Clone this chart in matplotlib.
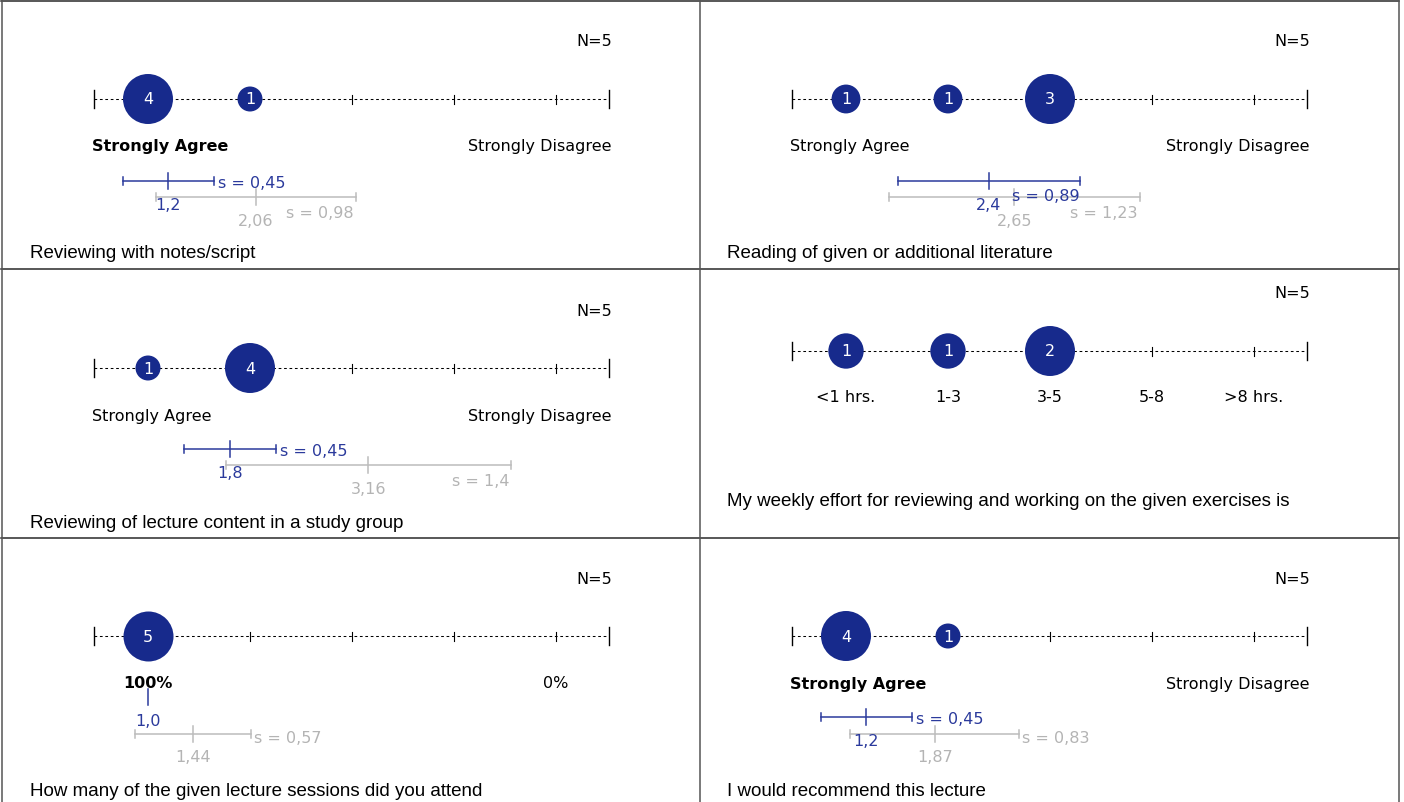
import matplotlib
matplotlib.use("Agg")
import matplotlib.pyplot as plt
from matplotlib.lines import Line2D

# ---------------- data ----------------
titles = [
    "Reviewing with notes/script",
    "Reading of given or additional literature",
    "Reviewing of lecture content in a study group",
    "My weekly effort for reviewing and working on the given exercises is",
    "How many of the given lecture sessions did you attend",
    "I would recommend this lecture",
]
counts = [
    [4, 1, 0, 0, 0],
    [1, 1, 3, 0, 0],
    [1, 4, 0, 0, 0],
    [1, 1, 2, 0, 0],
    [5, 0, 0, 0, 0],
    [4, 1, 0, 0, 0],
]
n_resp = [5, 5, 5, 5, 5, 5]
left_labels = ["Strongly Agree", "Strongly Agree", "Strongly Agree", None, "100%", "Strongly Agree"]
right_labels = ["Strongly Disagree", "Strongly Disagree", "Strongly Disagree", None, "0%", "Strongly Disagree"]
left_bold = [True, False, False, False, True, True]
hours_labels = ["<1 hrs.", "1-3", "3-5", "5-8", ">8 hrs."]
mean_course = [1.2, 2.4, 1.8, None, 1.0, 1.2]
sd_course = [0.45, 0.89, 0.45, None, 0.0, 0.45]
mean_ref = [2.06, 2.65, 3.16, None, 1.44, 1.87]
sd_ref = [0.98, 1.23, 1.4, None, 0.57, 0.83]

# ---------------- layout / style ----------------
W, H = 1404, 802
DARK = "#172a8c"
BLUE_TXT = "#2b3a9c"
GRAY = "#bcbcbc"
GRAY_TXT = "#b4b4b4"
FS = 11.5
UNIT = 102.0
col_left = [0, 700]
col_width = [700, 704]
cat1_px = [148, 846]
title_x = [30, 727]
row_top = [0, 269, 537]
row_h = 268
axis_y = [99, 99, 99, 82, 99, 99]
n_y = [42, 42, 42, 25, 42, 42]
blue_y = [181, 181, 180, None, 160, 180]
gray_y = [197, 197, 196, None, 197, 197]
blue_s_mode = ["right", "below", "right", None, "none", "right"]
gray_s_mode = ["below", "below", "below", None, "right", "right"]
gray_s_dx = [-2, -2, -2, None, 3, 3]
title_y = [254, 254, 254, 233, 254, 254]

fig = plt.figure(figsize=(W / 100, H / 100), dpi=100)
fig.patch.set_facecolor("white")


def fmt(v, nd=None):
    s = f"{v:.{nd}f}" if nd is not None else f"{v:g}"
    return s.replace(".", ",")


for i in range(6):
    r, c = i // 2, i % 2
    ax = fig.add_axes([col_left[c] / W, 1 - (row_top[r] + row_h) / H,
                       col_width[c] / W, row_h / H])
    ax.set_xlim(1 - (cat1_px[c] - col_left[c]) / UNIT,
                1 + (col_left[c] + col_width[c] - cat1_px[c]) / UNIT)
    ax.set_ylim(row_h, 0)
    ax.axis("off")
    px = 1 / UNIT
    ay = axis_y[i]

    # N
    ax.text(5.55, n_y[i], f"N={n_resp[i]}", ha="right", va="center", fontsize=FS,
            family="DejaVu Sans")

    # scale line
    x0, x1 = 0.47, 5.52
    ax.plot([x0, x1], [ay, ay], color="k", lw=0.75, ls=(0, (2.6, 2.6)), zorder=1)
    for xe in (x0, x1):
        ax.plot([xe, xe], [ay - 9, ay + 9], color="k", lw=1.0, zorder=1)
    for k in range(1, 6):
        ax.plot([k, k], [ay - 4.5, ay + 4.5], color="k", lw=0.8, zorder=1)

    # bubbles
    cmax = max(counts[i])
    xs = [k + 1 for k, n in enumerate(counts[i]) if n > 0]
    ns = [n for n in counts[i] if n > 0]
    ax.scatter(xs, [ay] * len(xs), s=[1296 * n / cmax for n in ns], color=DARK,
               linewidths=0, zorder=3)
    for x, n in zip(xs, ns):
        ax.text(x, ay + 1.0, str(n), color="white", ha="center", va="center",
                fontsize=FS, zorder=4, family="DejaVu Sans")

    # scale labels
    ly = ay + 48
    if left_labels[i] is None:
        for k, lab in enumerate(hours_labels):
            ax.text(k + 1, ly - 1, lab, ha="center", va="center", fontsize=FS)
    elif left_labels[i] == "100%":
        ax.text(1, ly, left_labels[i], ha="center", va="center", fontsize=FS,
                fontweight="bold" if left_bold[i] else "normal")
        ax.text(5, ly, right_labels[i], ha="center", va="center", fontsize=FS)
    else:
        ax.text(0.45, ly, left_labels[i], ha="left", va="center", fontsize=FS,
                fontweight="bold" if left_bold[i] else "normal")
        ax.text(5.54, ly, right_labels[i], ha="right", va="center", fontsize=FS)

    # mean / sd bars
    if mean_course[i] is not None:
        # reference (gray)
        m, s, y = mean_ref[i], sd_ref[i], gray_y[i]
        ax.plot([m - s, m + s], [y, y], color=GRAY, lw=1.1, zorder=2)
        for xe in (m - s, m + s):
            ax.plot([xe, xe], [y - 4, y + 4], color=GRAY, lw=1.1, zorder=2)
        ax.plot([m, m], [y - 8, y + 8], color=GRAY, lw=1.1, zorder=2)
        ax.text(m, y + 24, fmt(m, 2), color=GRAY_TXT, ha="center", va="center", fontsize=FS)
        if gray_s_mode[i] == "right":
            ax.text(m + s + gray_s_dx[i] * px, y + 4.5, f"s = {fmt(s)}", color=GRAY_TXT,
                    ha="left", va="center", fontsize=FS)
        else:
            ax.text(m + s + gray_s_dx[i] * px, y + 16.5, f"s = {fmt(s)}", color=GRAY_TXT,
                    ha="right", va="center", fontsize=FS)
        # course (blue)
        m, s, y = mean_course[i], sd_course[i], blue_y[i]
        if s > 0:
            ax.plot([m - s, m + s], [y, y], color=BLUE_TXT, lw=1.1, zorder=2)
            for xe in (m - s, m + s):
                ax.plot([xe, xe], [y - 4, y + 4], color=BLUE_TXT, lw=1.1, zorder=2)
        ax.plot([m, m], [y - 8, y + 8], color=BLUE_TXT, lw=1.1, zorder=2)
        ax.text(m, y + 24, fmt(m, 1), color=BLUE_TXT, ha="center", va="center", fontsize=FS)
        if blue_s_mode[i] == "right":
            ax.text(m + s + 4 * px, y + 3, f"s = {fmt(s)}", color=BLUE_TXT,
                    ha="left", va="center", fontsize=FS)
        elif blue_s_mode[i] == "below":
            ax.text(m + s, y + 15.5, f"s = {fmt(s)}", color=BLUE_TXT,
                    ha="right", va="center", fontsize=FS)

    # title
    ax.text(1 - (cat1_px[c] - title_x[c]) / UNIT, title_y[i], titles[i],
            ha="left", va="center", fontsize=13.5, family="Liberation Sans")

# panel borders
def hline(y, x0=1, x1=1399):
    fig.add_artist(Line2D([x0 / W, x1 / W], [1 - y / H, 1 - y / H], color="#2a2a2a",
                          lw=1.1, transform=fig.transFigure))


def vline(x, y0=0, y1=H):
    fig.add_artist(Line2D([x / W, x / W], [1 - y0 / H, 1 - y1 / H], color="#555555",
                          lw=1.1, transform=fig.transFigure))


for yb in (1, 269, 537.5):
    hline(yb)
for xb in (2, 700, 1399):
    vline(xb, 1)

fig.savefig("out.png", dpi=100, facecolor="white")
